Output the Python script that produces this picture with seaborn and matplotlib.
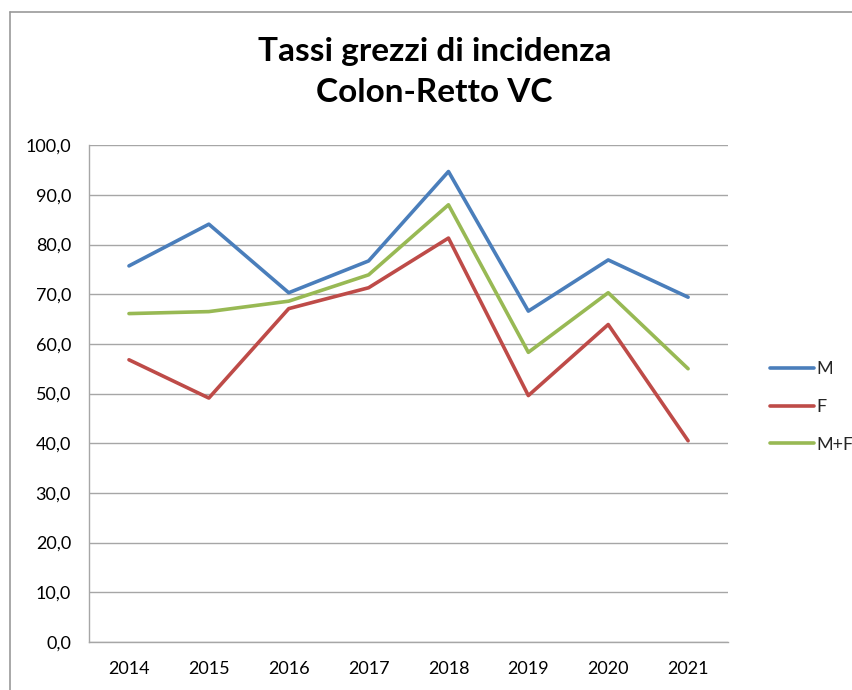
#!/usr/bin/env python3
# Tassi grezzi di incidenza - Colon-Retto VC (line chart, Excel look)

import matplotlib
matplotlib.use('Agg')
import numpy as np
import pandas as pd
import seaborn as sns
import matplotlib.pyplot as plt
from matplotlib.ticker import FuncFormatter, MultipleLocator
from matplotlib.lines import Line2D

years = ['2014', '2015', '2016', '2017', '2018', '2019', '2020', '2021']
m_vals  = [75.7, 84.1, 70.3, 76.7, 94.7, 66.6, 76.9, 69.4]
f_vals  = [56.8, 49.1, 67.1, 71.3, 81.3, 49.6, 63.9, 40.5]
mf_vals = [66.1, 66.5, 68.6, 73.9, 88.0, 58.3, 70.3, 55.0]
series  = ['M', 'F', 'M+F']
colors  = ['#4A7EBB', '#BE4B48', '#98B954']

title = 'Tassi grezzi di incidenza\nColon-Retto VC'

################################################
df = pd.DataFrame({'anno': years * 3,
                   'valore': m_vals + f_vals + mf_vals,
                   'serie': [s for s in series for _ in years]})

sns.set_theme(style='white')
plt.rcParams['font.family'] = ['Lato', 'DejaVu Sans']

fig = plt.figure(figsize=(8.52, 6.90), dpi=100)
ax = fig.add_axes([0.1045, 0.0696, 0.75, 0.72])

sns.lineplot(data=df, x='anno', y='valore', hue='serie', hue_order=series,
             palette=colors, linewidth=2.6, ax=ax, sort=False)

ax.set_xlim(-0.5, 7.5)
ax.set_ylim(0, 100)
ax.yaxis.set_major_locator(MultipleLocator(10))
ax.yaxis.set_major_formatter(FuncFormatter(lambda v, p: '{0:.1f}'.format(v).replace('.', ',')))
ax.grid(axis='y', color='#A6A6A6', linewidth=1.0)
ax.set_axisbelow(True)
ax.set_xlabel('')
ax.set_ylabel('')
for s in ['top', 'right']:
  ax.spines[s].set_visible(False)
for s in ['left', 'bottom']:
  ax.spines[s].set_color('#A6A6A6')
  ax.spines[s].set_linewidth(1.0)
ax.tick_params(axis='both', length=0, labelsize=13, colors='black')
ax.tick_params(axis='y', pad=13)
ax.tick_params(axis='x', pad=14)

ax.legend(loc='center left', bbox_to_anchor=(0.885, 0.41), bbox_transform=fig.transFigure,
          frameon=False, fontsize=13, handlelength=2.4, handletextpad=0.15,
          labelspacing=1.2)

fig.text(0.51, 0.895, title, ha='center', va='center', fontsize=24,
         fontweight='bold', linespacing=1.5, color='black')

# outer chart border (left and top edges visible)
fig.add_artist(Line2D([0.012, 0.012], [0.0, 0.983], color='#999999', lw=1.2))
fig.add_artist(Line2D([0.012, 1.0], [0.983, 0.983], color='#999999', lw=1.2))

plt.savefig('out.png', dpi=100)
